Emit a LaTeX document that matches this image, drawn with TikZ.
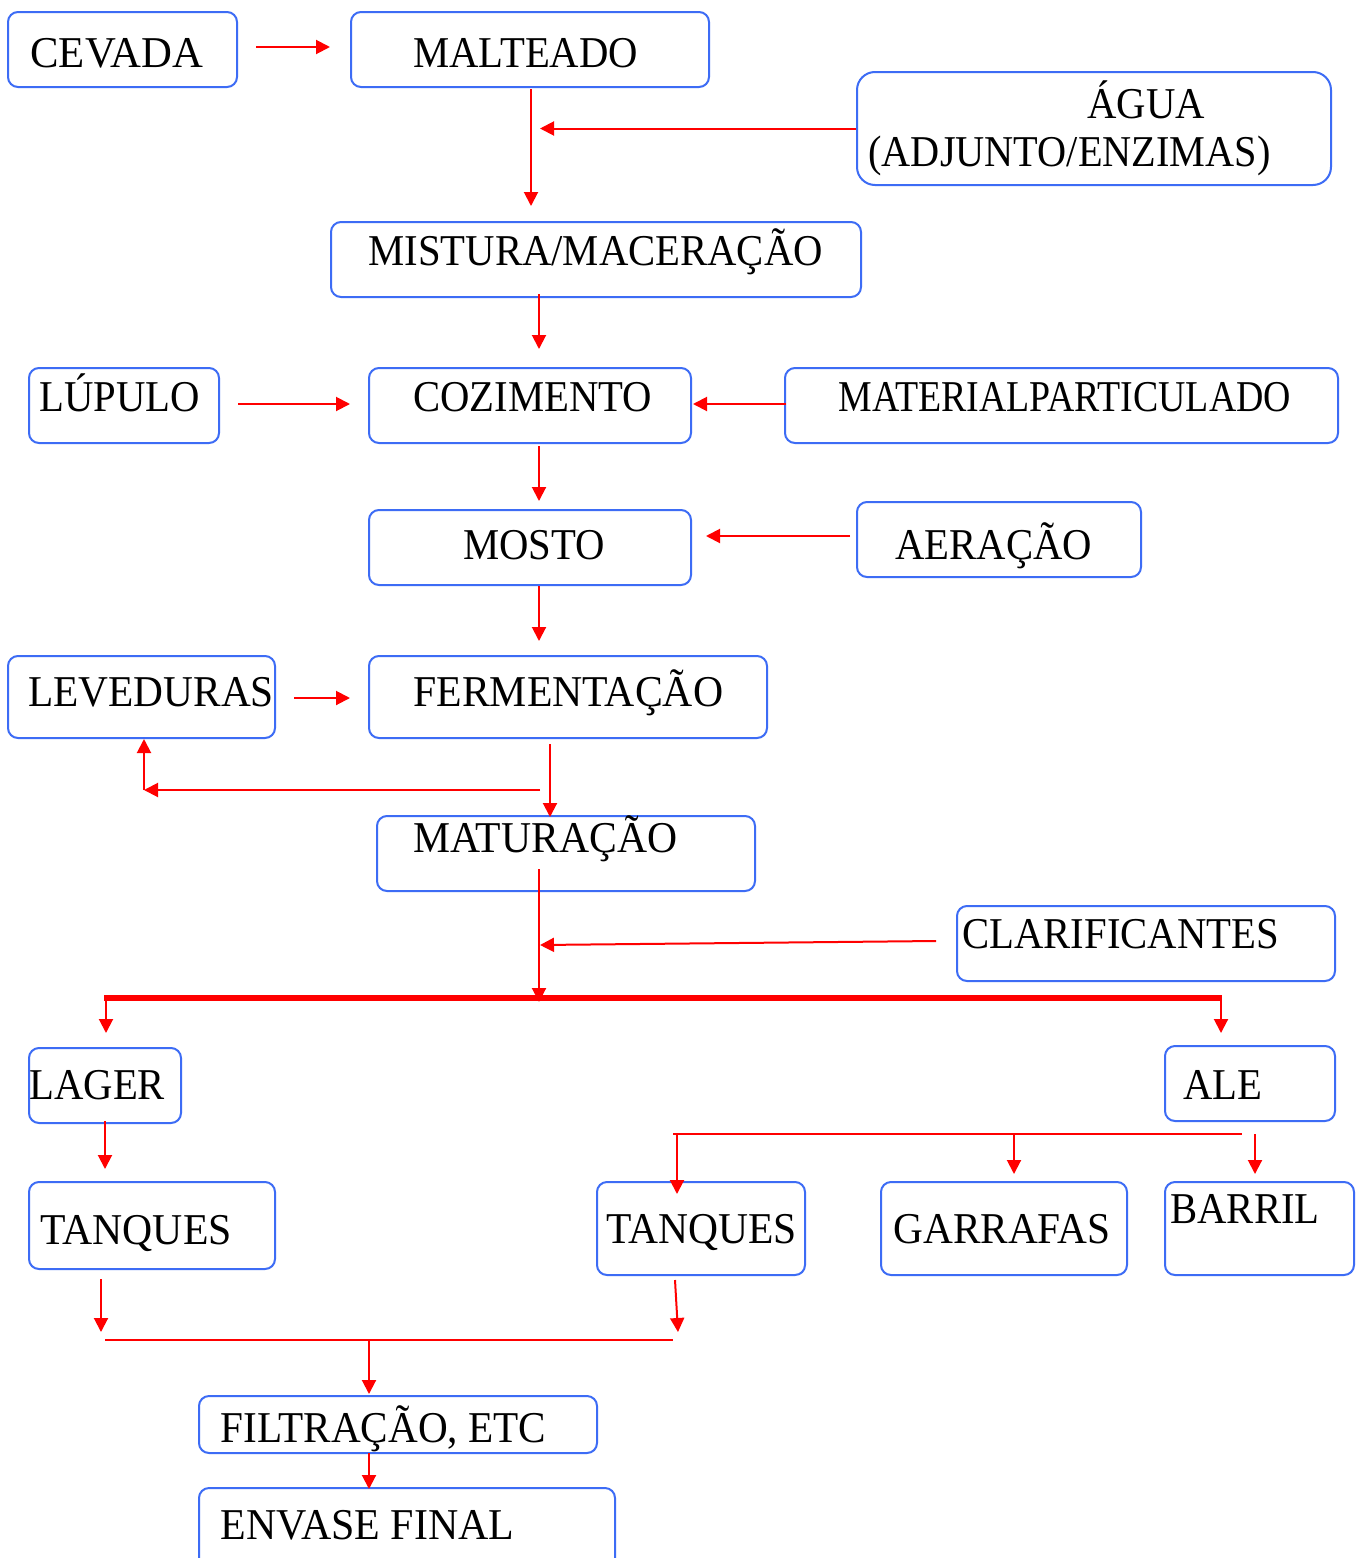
\documentclass[tikz,border=0pt]{standalone}
\usepackage{fontspec}
\setmainfont{Liberation Serif}[FakeStretch=0.925]
\usetikzlibrary{arrows.meta,calc,fit}
\definecolor{boxblue}{RGB}{61,108,245}
\definecolor{flowred}{RGB}{255,0,0}
\tikzset{
  box/.style={draw=boxblue, line width=1pt, rounded corners=5pt, inner sep=0pt, fill=none},
  lbl/.style={anchor=base west, inner sep=0pt, font=\fontsize{22}{26}\selectfont, text=black},
  arr/.style={draw=flowred, line width=1pt, -{Triangle[length=7pt,width=7pt]}},
  busline/.style={draw=flowred, line width=3pt},
  branchline/.style={draw=flowred, line width=1.4pt},
  joinline/.style={draw=flowred, line width=1.1pt}
}
\begin{document}
\begin{tikzpicture}[x=0.5pt,y=-0.5pt]
\useasboundingbox (0,0) rectangle (1364,1558);
\clip (0,0) rectangle (1364,1558);
\fill[white] (0,0) rectangle (1364,1558);

% boxes
\node[box, fit={(8,12) (237,87)}] (cev) {};
\node[box, fit={(351,12) (709,87)}] (malt) {};
\node[box, rounded corners=9pt, fit={(857,72) (1331,185)}] (agua) {};
\node[box, fit={(331,222) (861,297)}] (mist) {};
\node[box, fit={(29,368) (219,443)}] (lup) {};
\node[box, fit={(369,368) (691,443)}] (coz) {};
\node[box, fit={(785,368) (1338,443)}] (mat) {};
\node[box, fit={(369,510) (691,585)}] (mos) {};
\node[box, fit={(857,502) (1141,577)}] (aer) {};
\node[box, fit={(8,656) (275,738)}] (lev) {};
\node[box, fit={(369,656) (767,738)}] (fer) {};
\node[box, fit={(377,816) (755,891)}] (matu) {};
\node[box, fit={(957,906) (1335,981)}] (cla) {};
\node[box, fit={(29,1048) (181,1123)}] (lag) {};
\node[box, fit={(1165,1046) (1335,1121)}] (ale) {};
\node[box, fit={(29,1182) (275,1269)}] (tqa) {};
\node[box, fit={(597,1182) (805,1275)}] (tqb) {};
\node[box, fit={(881,1182) (1127,1275)}] (gar) {};
\node[box, fit={(1165,1182) (1354,1275)}] (bar) {};
\node[box, fit={(199,1396) (597,1453)}] (fil) {};
\node[box, fit={(199,1488) (615,1580)}] (env) {};

% labels
\node[lbl] (tcev) at (30,67) {\scalebox{1.05}[1]{CEVADA}};
\node[lbl] (tmalt) at (413,67) {MALTEADO};
\node[lbl] (tagua1) at (1087,118) {ÁGUA};
\node[lbl] (tagua2) at (868,166) {\scalebox{0.99}[1]{(ADJUNTO/ENZIMAS)}};
\node[lbl] (tmist) at (368,265) {MISTURA/MACERAÇÃO};
\node[lbl] (tlup) at (39,411) {LÚPULO};
\node[lbl] (tcoz) at (413,411) {COZIMENTO};
\node[lbl] (tmat) at (838,411) {\scalebox{0.93}[1]{MATERIALPARTICULADO}};
\node[lbl] (tmos) at (463,559) {MOSTO};
\node[lbl] (taer) at (895,559) {AERAÇÃO};
\node[lbl] (tlev) at (28,706) {\scalebox{1.015}[1]{LEVEDURAS}};
\node[lbl] (tfer) at (413,706) {\scalebox{1.026}[1]{FERMENTAÇÃO}};
\node[lbl] (tmatu) at (413,852) {\scalebox{1.023}[1]{MATURAÇÃO}};
\node[lbl] (tcla) at (962,948) {CLARIFICANTES};
\node[lbl] (tlag) at (29,1099) {LAGER};
\node[lbl] (tale) at (1183,1099) {ALE};
\node[lbl] (ttqa) at (40,1244) {\scalebox{1.025}[1]{TANQUES}};
\node[lbl] (ttqb) at (606,1243) {\scalebox{1.02}[1]{TANQUES}};
\node[lbl] (tgar) at (893,1243) {\scalebox{1.015}[1]{GARRAFAS}};
\node[lbl] (tbar) at (1170,1223) {BARRIL};
\node[lbl] (tfil) at (220,1442) {\scalebox{1.012}[1]{FILTRAÇÃO, ETC}};
\node[lbl] (tenv) at (220,1539) {\scalebox{1.03}[1]{ENVASE FINAL}};

% connectors
\draw[arr] ($(cev.east)+(18,-2.5)$) -- ($(malt.west)+(-20,-2.5)$);
\draw[arr] ($(malt.south)+(1,1)$) -- ($(malt.south |- mist.north)+(1,-15)$);
\draw[arr] (agua.west) -- ($(malt.south |- agua.west)+(10,0)$);
\draw[arr] ($(coz.north |- mist.south)+(9,-4)$) -- ($(coz.north)+(9,-18)$);
\draw[arr] ($(lup.east)+(18,-1.5)$) -- ($(coz.west)+(-18,-1.5)$);
\draw[arr] ($(mat.west)+(2,-1.5)$) -- ($(coz.east)+(1,-1.5)$);
\draw[arr] ($(coz.south)+(9,2)$) -- ($(mos.north)+(9,-8)$);
\draw[arr] ($(aer.west)+(-6,-3.5)$) -- ($(mos.east)+(14,-11.5)$);
\draw[arr] ($(mos.south)+(9,0)$) -- ($(mos.south |- fer.north)+(9,-14)$);
\draw[arr] ($(lev.east)+(18,1)$) -- ($(fer.west)+(-18,1)$);
\draw[arr] ($(fer.south)+(-18,5)$) -- ($(matu.north)+(-16,2)$);
\coordinate (ret) at ($(fer.south)+(-28,51)$);
\coordinate (retc) at ($(lev.south |- ret)+(2.5,0)$);
\draw[arr] (ret) -- (retc);
\draw[arr] (retc) -- ($(lev.south)+(2.5,0)$);

% maturation to bus
\coordinate (busL) at (104,998);
\coordinate (busR) at (1222,998);
\draw[busline] (busL) -- (busR);
\draw[arr] ($(matu.south)+(-27,-23)$) -- ($(matu.south)+(-27,110)$);
\draw[arr] ($(cla.west)+(-20,-2.5)$) -- ($(matu.south)+(-26,53)$);
\draw[arr] ($(lag.north |- busL)+(1,0)$) -- ($(lag.north)+(1,-14)$);
\draw[arr] ($(busR)+(-1,0)$) -- ($(ale.north)+(-29,-12)$);
\draw[arr] ($(lag.south)+(0,-3)$) -- ($(lag.south |- tqa.north)+(0,-12)$);

% ale branch
\coordinate (brL) at (673,1134);
\coordinate (brR) at (1242,1134);
\draw[branchline] (brL) -- (brR);
\draw[arr] ($(brL)+(4,0)$) -- ($(tqb.north)+(-24,13)$);
\draw[arr] ($(gar.north |- brL)+(10,0)$) -- ($(gar.north)+(10,-7)$);
\draw[arr] ($(bar.north)+(-4.5,-47)$) -- ($(bar.north)+(-4.5,-7)$);

% join
\coordinate (jL) at (105,1340);
\coordinate (jR) at (673,1340);
\draw[joinline] (jL) -- (jR);
\draw[arr] ($(tqa.south)+(-51,9)$) -- ($(tqa.south)+(-51,62)$);
\draw[arr] ($(tqb.south)+(-26,4)$) -- ($(tqb.south)+(-23,56)$);
\draw[arr] ($(jL)+(264,0)$) -- ($(fil.north)+(-29,-1)$);
\draw[arr] ($(fil.south)+(-29,-1)$) -- ($(env.north)+(-38,2)$);
\end{tikzpicture}
\end{document}
